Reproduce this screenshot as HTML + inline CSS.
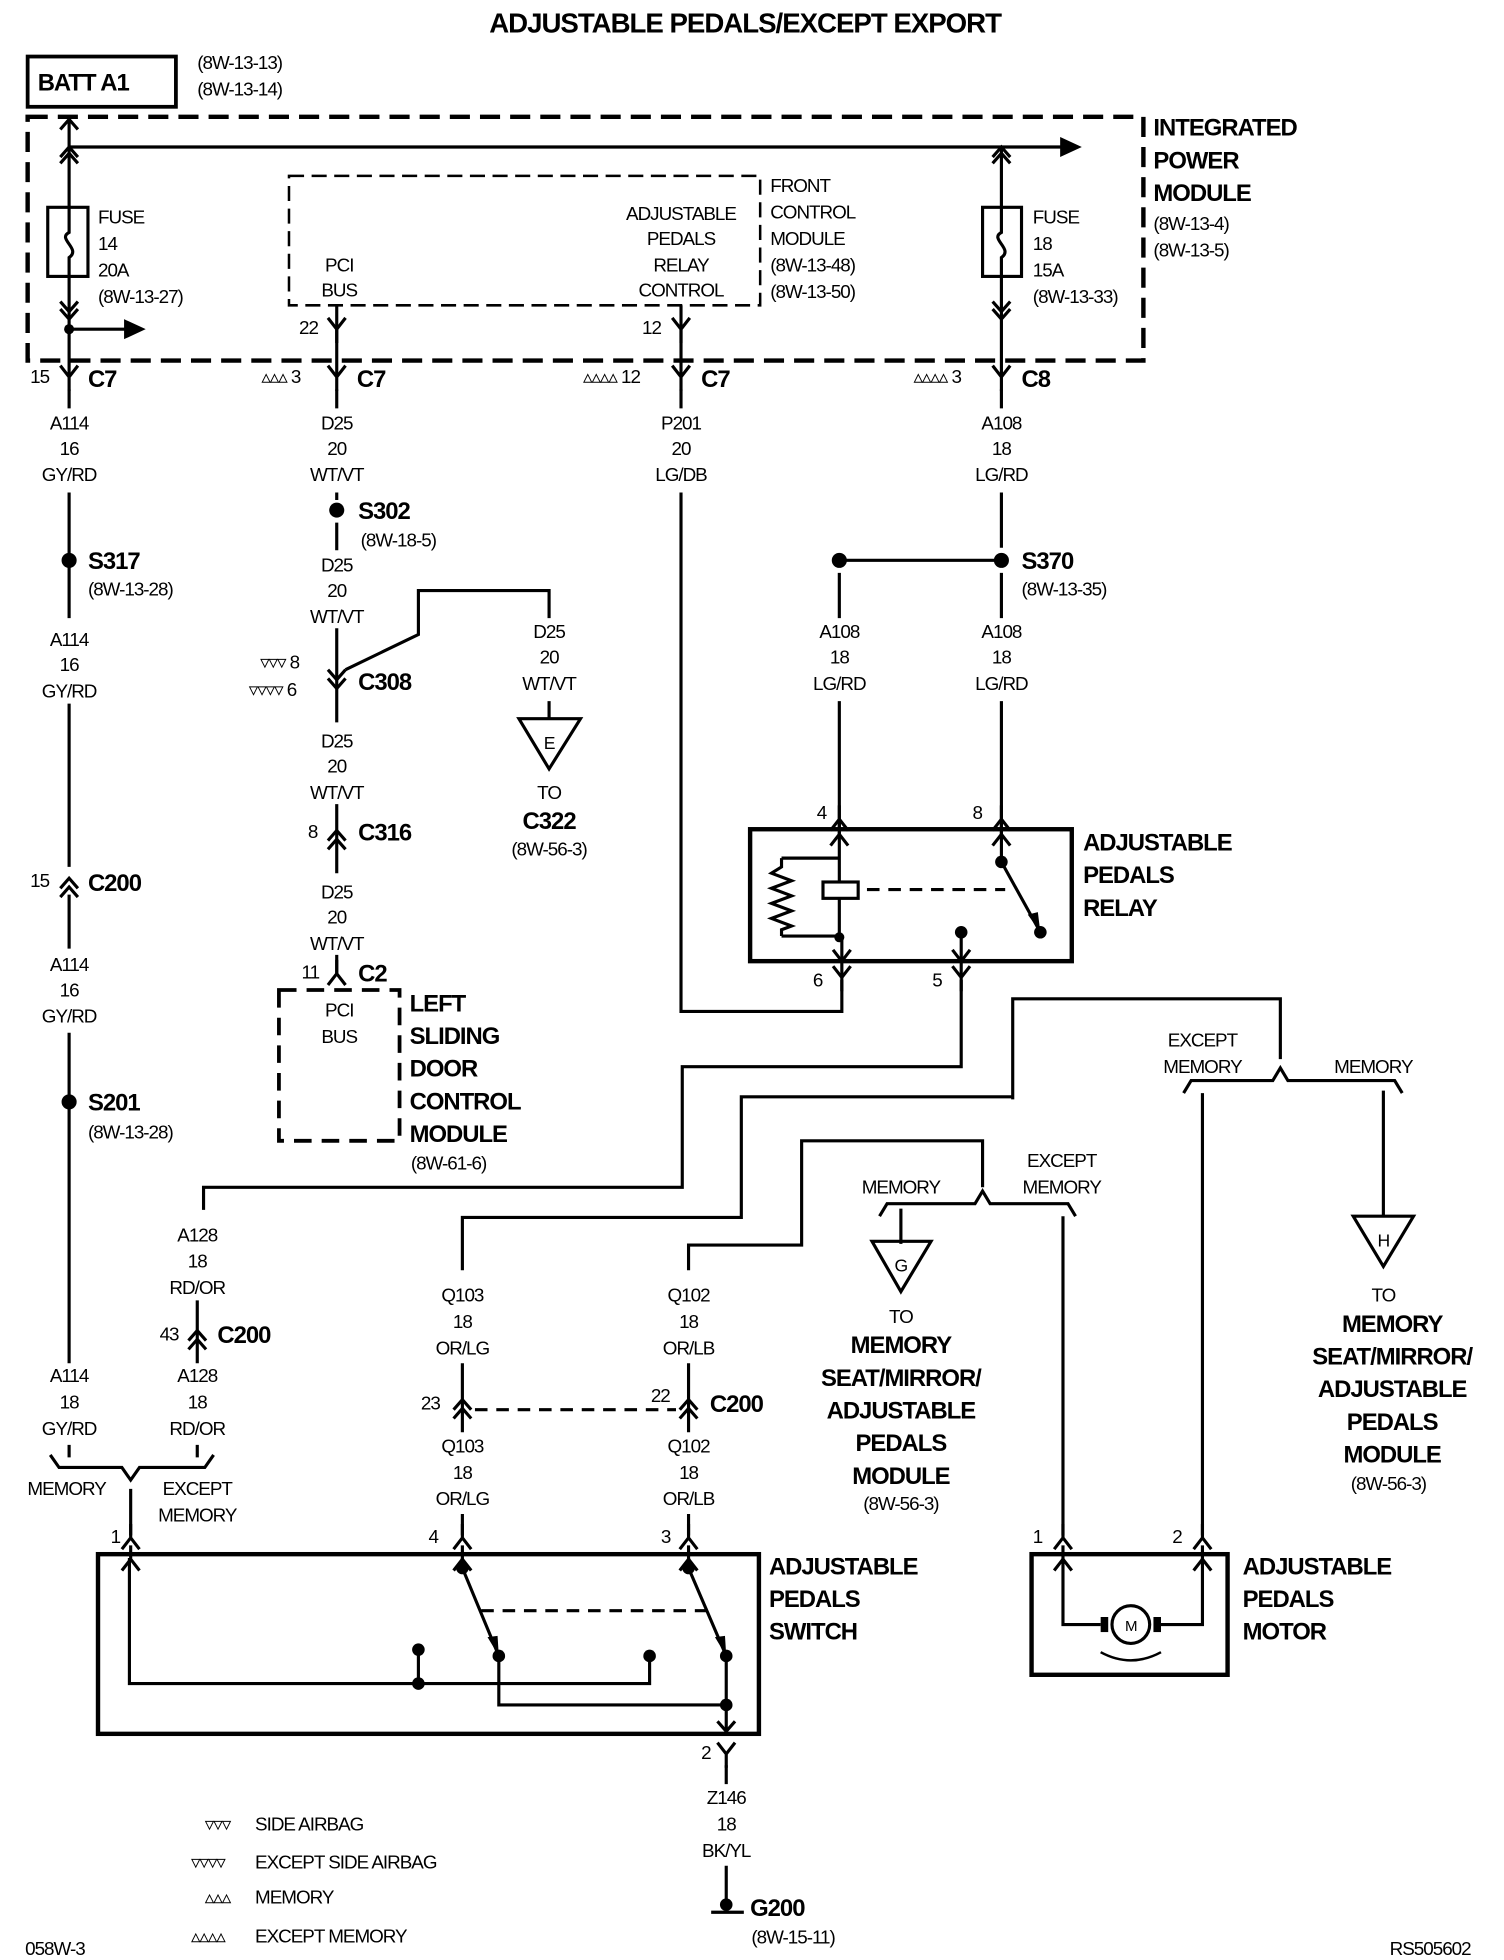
<!DOCTYPE html>
<html><head><meta charset="utf-8"><style>
html,body{margin:0;padding:0;background:#fff}
svg{display:block}
text{font-family:"Liberation Sans",sans-serif;fill:#000}
.n{font-size:15px;letter-spacing:-0.8px}
.b{font-size:19px;font-weight:bold;letter-spacing:-0.8px}
.c{text-anchor:middle}
</style></head><body>
<svg width="1504" height="1960" viewBox="0 0 1197 1560" preserveAspectRatio="none" xmlns="http://www.w3.org/2000/svg">
<defs>
<g id="Y"><path d="M-7,-9 L0,0 L7,-9 M0,0 V11" fill="none" stroke="#000" stroke-width="2.5"/></g>
<g id="A"><path d="M-7,9 L0,0 L7,9 M0,0 V-11" fill="none" stroke="#000" stroke-width="2.5"/></g>
<g id="DD"><path d="M-7,-12 L0,-4 L7,-12 M-7,-5 L0,3 L7,-5" fill="none" stroke="#000" stroke-width="2.5"/></g>
<g id="UU"><path d="M-7,12 L0,4 L7,12 M-7,5 L0,-3 L7,5" fill="none" stroke="#000" stroke-width="2.5"/></g>
</defs>
<g fill="none" stroke="#000" stroke-width="2.5">
<rect x="22" y="45" width="118" height="40" stroke-width="3"/>
<rect x="22" y="93" width="888" height="194" stroke-width="3.5" stroke-dasharray="16,8"/>
<rect x="230" y="140" width="375" height="103" stroke-width="2" stroke-dasharray="12,6"/>
<path d="M55,95 V300 M55,117 H845 M797,117 V300 M55,262 H100"/>
<path d="M48,103 L55,95 L62,103 M48,125 L55,117 L62,125 M48,130 L55,122 L62,130"/>
<path d="M48,240 L55,248 L62,240 M48,246 L55,254 L62,246 M790,240 L797,248 L804,240 M790,246 L797,254 L804,246 M790,130 L797,122 L804,130 M790,125 L797,117 L804,125"/>
<path d="M845,111 L858,117 L845,123 Z M100,256 L113,262 L100,268 Z" fill="#000"/>
<rect x="38" y="165" width="32" height="55" fill="#fff"/>
<rect x="782" y="165" width="31" height="55" fill="#fff"/>
<path d="M55,165 V185 C45,190 65,198 55,205 V220 M797,165 V185 C787,190 807,198 797,205 V220"/>
<path d="M268,243 V300 M542,243 V300"/>
<path d="M55,310 V325 M55,392 V492 M55,560 V690 M55,712 V755 M55,822 V1085 M55,1150 V1160 M268,310 V325 M268,392 V398 M268,416 V438"/>
<path d="M268,500 V575 M268,640 V695 M268,760 V775"/>
<path d="M275,533 L333,505 V470 H437 V492 M437,558 V572"/>
<path d="M542,310 V325 M542,392 V805 H670 V780"/>
<path d="M797,310 V325 M797,392 V436 M668,446 H797 M668,456 V492 M797,456 V492 M668,558 V660 M797,558 V660"/>
<path d="M765,780 V849 H543 V945 H162 V963 M157,1035 V1085 M157,1150 V1160"/>
<path d="M806,875 V795 H1019 V843"/>
<path d="M806,873 H590 V969 H368 V1011 M368,1085 V1140 M368,1205 V1222"/>
<path d="M548,1011 V991 H638 V908 H782 V945 M548,1085 V1140 M548,1205 V1222"/>
<path d="M40,1158 L47,1168 H97 L104,1178 L111,1168 H163 L170,1158 M104,1185 V1222"/>
<path d="M700,968 L706,958 H776 L782,948 L788,958 H850 L856,968 M717,962 V990 M846,968 V1222"/>
<path d="M942,870 L948,860 H1013 L1019,850 L1025,860 H1110 L1116,870 M957,870 V1222 M1101,868 V968"/>
<path d="M413,572 H462 L437,612 Z M694,988 H741 L717,1028 Z M1077,968 H1125 L1101,1008 Z"/>
<rect x="222" y="788" width="96" height="120" stroke-width="3" stroke-dasharray="14,8"/>
<rect x="597" y="660" width="256" height="105" stroke-width="3.5"/>
<path d="M668,662 V702 M668,715 V746 M622,683 H668 M622,745 H668 M622,683 V690 L614,695 L630,701 L614,707 L630,713 L614,719 L630,725 L614,731 L630,737 L622,740 V745"/>
<rect x="655" y="702" width="28" height="13"/>
<path d="M690,708 H800" stroke-dasharray="10,7"/>
<path d="M797,662 V686 L828,742 M765,742 V765 M670,746 V765"/>
<rect x="78" y="1237" width="526" height="143" stroke-width="3.5"/>
<path d="M103,1240 V1340 H517 V1318 M333,1313 V1340 M368,1240 V1248 L397,1318 V1357 H578 M548,1240 V1248 L578,1318 V1380"/>
<path d="M383,1282 H563" stroke-dasharray="10,7"/>
<path d="M571,1370 L578,1378 L585,1370"/>
<rect x="821" y="1237" width="156" height="96" stroke-width="3.5"/>
<path d="M846,1240 V1293 H876 M924,1293 H957 V1240"/>
<path d="M876,1315 Q900,1328 924,1315" stroke-width="2"/>
<path d="M578,1405 V1420 M578,1485 V1515 M566,1522 H592"/>
</g>
<g fill="#000">
<circle cx="268" cy="406" r="6"/><circle cx="55" cy="446" r="6"/><circle cx="55" cy="877" r="6"/>
<circle cx="668" cy="446" r="6"/><circle cx="797" cy="446" r="6"/>
<circle cx="55" cy="262" r="4"/>
<circle cx="668" cy="746" r="4"/><circle cx="765" cy="742" r="5"/><circle cx="828" cy="742" r="5"/><circle cx="797" cy="686" r="5"/>
<circle cx="333" cy="1313" r="5"/><circle cx="333" cy="1340" r="5"/><circle cx="517" cy="1318" r="5"/>
<circle cx="368" cy="1248" r="5"/><circle cx="397" cy="1318" r="5"/><circle cx="548" cy="1248" r="5"/><circle cx="578" cy="1318" r="5"/><circle cx="578" cy="1357" r="5"/>
<circle cx="578" cy="1516" r="5"/>
<rect x="876" y="1287" width="6" height="12"/><rect x="918" y="1287" width="6" height="12"/>
<path d="M828,742 L818,728 L826,726 Z M397,1318 L388,1303 L396,1302 Z M578,1318 L569,1303 L577,1302 Z"/>
</g>
<circle cx="900" cy="1293" r="15" fill="#fff" stroke="#000" stroke-width="2.5"/>
<use href="#Y" x="268" y="262"/><use href="#Y" x="542" y="262"/>
<use href="#Y" x="55" y="300"/><use href="#Y" x="268" y="300"/><use href="#Y" x="542" y="300"/><use href="#Y" x="797" y="300"/>
<use href="#DD" x="268" y="545"/><use href="#UU" x="268" y="664"/><use href="#A" x="268" y="775"/>
<use href="#UU" x="55" y="702"/><use href="#UU" x="157" y="1062"/><use href="#UU" x="368" y="1117"/><use href="#UU" x="548" y="1117"/>
<use href="#A" x="668" y="652"/><use href="#A" x="797" y="652"/>
<use href="#A" x="668" y="664"/><use href="#A" x="797" y="664"/>
<use href="#Y" x="670" y="778"/><use href="#Y" x="765" y="778"/>
<use href="#Y" x="670" y="765"/><use href="#Y" x="765" y="765"/>
<use href="#A" x="104" y="1224"/><use href="#A" x="368" y="1224"/><use href="#A" x="548" y="1224"/>
<use href="#A" x="104" y="1241"/><use href="#A" x="368" y="1241"/><use href="#A" x="548" y="1241"/>
<use href="#Y" x="578" y="1396"/><use href="#A" x="846" y="1224"/><use href="#A" x="957" y="1224"/>
<use href="#A" x="846" y="1241"/><use href="#A" x="957" y="1241"/>

<text class="b c" x="593" y="26" style="font-size:22px">ADJUSTABLE PEDALS/EXCEPT EXPORT</text>
<text class="b" x="30" y="72">BATT A1</text>
<text class="n" x="157" y="55">(8W-13-13)</text><text class="n" x="157" y="76">(8W-13-14)</text>
<text class="b" x="918" y="108">INTEGRATED</text><text class="b" x="918" y="134">POWER</text><text class="b" x="918" y="160">MODULE</text>
<text class="n" x="918" y="183">(8W-13-4)</text><text class="n" x="918" y="204">(8W-13-5)</text>
<text class="n" x="78" y="178">FUSE</text><text class="n" x="78" y="199">14</text><text class="n" x="78" y="220">20A</text><text class="n" x="78" y="241">(8W-13-27)</text>
<text class="n" x="822" y="178">FUSE</text><text class="n" x="822" y="199">18</text><text class="n" x="822" y="220">15A</text><text class="n" x="822" y="241">(8W-13-33)</text>
<text class="n c" x="270" y="216">PCI</text><text class="n c" x="270" y="236">BUS</text>
<text class="n c" x="542" y="175">ADJUSTABLE</text><text class="n c" x="542" y="195">PEDALS</text><text class="n c" x="542" y="216">RELAY</text><text class="n c" x="542" y="236">CONTROL</text>
<text class="n" x="613" y="153">FRONT</text><text class="n" x="613" y="174">CONTROL</text><text class="n" x="613" y="195">MODULE</text><text class="n" x="613" y="216">(8W-13-48)</text><text class="n" x="613" y="237">(8W-13-50)</text>
<text class="n" x="238" y="266">22</text><text class="n" x="511" y="266">12</text>
<text class="n" x="24" y="305">15</text><text class="b" x="70" y="308">C7</text>
<text class="n" x="208" y="305">▵▵▵ 3</text><text class="b" x="284" y="308">C7</text>
<text class="n" x="464" y="305">▵▵▵▵ 12</text><text class="b" x="558" y="308">C7</text>
<text class="n" x="727" y="305">▵▵▵▵ 3</text><text class="b" x="813" y="308">C8</text>
<text class="n c" x="55" y="342">A114</text><text class="n c" x="55" y="362">16</text><text class="n c" x="55" y="383">GY/RD</text>
<text class="n c" x="268" y="342">D25</text><text class="n c" x="268" y="362">20</text><text class="n c" x="268" y="383">WT/VT</text>
<text class="n c" x="542" y="342">P201</text><text class="n c" x="542" y="362">20</text><text class="n c" x="542" y="383">LG/DB</text>
<text class="n c" x="797" y="342">A108</text><text class="n c" x="797" y="362">18</text><text class="n c" x="797" y="383">LG/RD</text>
<text class="b" x="285" y="413">S302</text><text class="n" x="287" y="435">(8W-18-5)</text>
<text class="b" x="70" y="453">S317</text><text class="n" x="70" y="474">(8W-13-28)</text>
<text class="b" x="813" y="453">S370</text><text class="n" x="813" y="474">(8W-13-35)</text>
<text class="n c" x="268" y="455">D25</text><text class="n c" x="268" y="475">20</text><text class="n c" x="268" y="496">WT/VT</text>
<text class="n c" x="437" y="508">D25</text><text class="n c" x="437" y="528">20</text><text class="n c" x="437" y="549">WT/VT</text>
<text class="n c" x="55" y="514">A114</text><text class="n c" x="55" y="534">16</text><text class="n c" x="55" y="555">GY/RD</text>
<text class="n c" x="668" y="508">A108</text><text class="n c" x="668" y="528">18</text><text class="n c" x="668" y="549">LG/RD</text>
<text class="n c" x="797" y="508">A108</text><text class="n c" x="797" y="528">18</text><text class="n c" x="797" y="549">LG/RD</text>
<text class="n" x="207" y="532">▿▿▿ 8</text><text class="n" x="198" y="554">▿▿▿▿ 6</text><text class="b" x="285" y="549">C308</text>
<text class="n c" x="437" y="596" style="font-size:14px">E</text>
<text class="n c" x="437" y="636">TO</text><text class="b c" x="437" y="660">C322</text><text class="n c" x="437" y="681">(8W-56-3)</text>
<text class="n c" x="268" y="595">D25</text><text class="n c" x="268" y="615">20</text><text class="n c" x="268" y="636">WT/VT</text>
<text class="n" x="245" y="667">8</text><text class="b" x="285" y="669">C316</text>
<text class="n c" x="268" y="715">D25</text><text class="n c" x="268" y="735">20</text><text class="n c" x="268" y="756">WT/VT</text>
<text class="n" x="240" y="779">11</text><text class="b" x="285" y="781">C2</text>
<text class="n c" x="270" y="809">PCI</text><text class="n c" x="270" y="830">BUS</text>
<text class="b" x="326" y="805">LEFT</text><text class="b" x="326" y="831">SLIDING</text><text class="b" x="326" y="857">DOOR</text><text class="b" x="326" y="883">CONTROL</text><text class="b" x="326" y="909">MODULE</text>
<text class="n" x="327" y="931">(8W-61-6)</text>
<text class="n" x="24" y="706">15</text><text class="b" x="70" y="709">C200</text>
<text class="n c" x="55" y="773">A114</text><text class="n c" x="55" y="793">16</text><text class="n c" x="55" y="814">GY/RD</text>
<text class="b" x="70" y="884">S201</text><text class="n" x="70" y="906">(8W-13-28)</text>
<text class="n" x="650" y="652">4</text><text class="n" x="774" y="652">8</text>
<text class="n" x="647" y="785">6</text><text class="n" x="742" y="785">5</text>
<text class="b" x="862" y="677">ADJUSTABLE</text><text class="b" x="862" y="703">PEDALS</text><text class="b" x="862" y="729">RELAY</text>
<text class="n c" x="957" y="833">EXCEPT</text><text class="n c" x="957" y="854">MEMORY</text><text class="n c" x="1093" y="854">MEMORY</text>
<text class="n c" x="717" y="950">MEMORY</text><text class="n c" x="845" y="929">EXCEPT</text><text class="n c" x="845" y="950">MEMORY</text>
<text class="n c" x="717" y="1012" style="font-size:14px">G</text><text class="n c" x="1101" y="992" style="font-size:14px">H</text>
<text class="n c" x="717" y="1053">TO</text>
<text class="b c" x="717" y="1077">MEMORY</text><text class="b c" x="717" y="1103">SEAT/MIRROR/</text><text class="b c" x="717" y="1129">ADJUSTABLE</text><text class="b c" x="717" y="1155">PEDALS</text><text class="b c" x="717" y="1181">MODULE</text>
<text class="n c" x="717" y="1202">(8W-56-3)</text>
<text class="n c" x="1101" y="1036">TO</text>
<text class="b c" x="1108" y="1060">MEMORY</text><text class="b c" x="1108" y="1086">SEAT/MIRROR/</text><text class="b c" x="1108" y="1112">ADJUSTABLE</text><text class="b c" x="1108" y="1138">PEDALS</text><text class="b c" x="1108" y="1164">MODULE</text>
<text class="n c" x="1105" y="1186">(8W-56-3)</text>
<text class="n c" x="157" y="988">A128</text><text class="n c" x="157" y="1009">18</text><text class="n c" x="157" y="1030">RD/OR</text>
<text class="n" x="127" y="1067">43</text><text class="b" x="173" y="1069">C200</text>
<text class="n c" x="55" y="1100">A114</text><text class="n c" x="55" y="1121">18</text><text class="n c" x="55" y="1142">GY/RD</text>
<text class="n c" x="157" y="1100">A128</text><text class="n c" x="157" y="1121">18</text><text class="n c" x="157" y="1142">RD/OR</text>
<text class="n c" x="368" y="1036">Q103</text><text class="n c" x="368" y="1057">18</text><text class="n c" x="368" y="1078">OR/LG</text>
<text class="n c" x="548" y="1036">Q102</text><text class="n c" x="548" y="1057">18</text><text class="n c" x="548" y="1078">OR/LB</text>
<text class="n" x="335" y="1122">23</text><text class="n" x="518" y="1116">22</text><text class="b" x="565" y="1124">C200</text>
<path d="M378,1122 H538" stroke="#000" stroke-width="2.5" stroke-dasharray="10,7"/>
<text class="n c" x="368" y="1156">Q103</text><text class="n c" x="368" y="1177">18</text><text class="n c" x="368" y="1198">OR/LG</text>
<text class="n c" x="548" y="1156">Q102</text><text class="n c" x="548" y="1177">18</text><text class="n c" x="548" y="1198">OR/LB</text>
<text class="n c" x="53" y="1190">MEMORY</text><text class="n c" x="157" y="1190">EXCEPT</text><text class="n c" x="157" y="1211">MEMORY</text>
<text class="n" x="88" y="1228">1</text><text class="n" x="341" y="1228">4</text><text class="n" x="526" y="1228">3</text>
<text class="n" x="822" y="1228">1</text><text class="n" x="933" y="1228">2</text>
<text class="b" x="612" y="1253">ADJUSTABLE</text><text class="b" x="612" y="1279">PEDALS</text><text class="b" x="612" y="1305">SWITCH</text>
<text class="b" x="989" y="1253">ADJUSTABLE</text><text class="b" x="989" y="1279">PEDALS</text><text class="b" x="989" y="1305">MOTOR</text>
<text class="n c" x="900" y="1298" style="font-size:12px">M</text>
<text class="n" x="558" y="1400">2</text>
<text class="n c" x="578" y="1436">Z146</text><text class="n c" x="578" y="1457">18</text><text class="n c" x="578" y="1478">BK/YL</text>
<text class="b" x="597" y="1525">G200</text><text class="n" x="598" y="1547">(8W-15-11)</text>
<text class="n" x="163" y="1457">▿▿▿</text><text class="n" x="203" y="1457">SIDE AIRBAG</text>
<text class="n" x="152" y="1487">▿▿▿▿</text><text class="n" x="203" y="1487">EXCEPT SIDE AIRBAG</text>
<text class="n" x="163" y="1515">▵▵▵</text><text class="n" x="203" y="1515">MEMORY</text>
<text class="n" x="152" y="1546">▵▵▵▵</text><text class="n" x="203" y="1546">EXCEPT MEMORY</text>
<text class="n" x="20" y="1556">058W-3</text><text class="n" x="1106" y="1556">RS505602</text>
</svg>
</body></html>
